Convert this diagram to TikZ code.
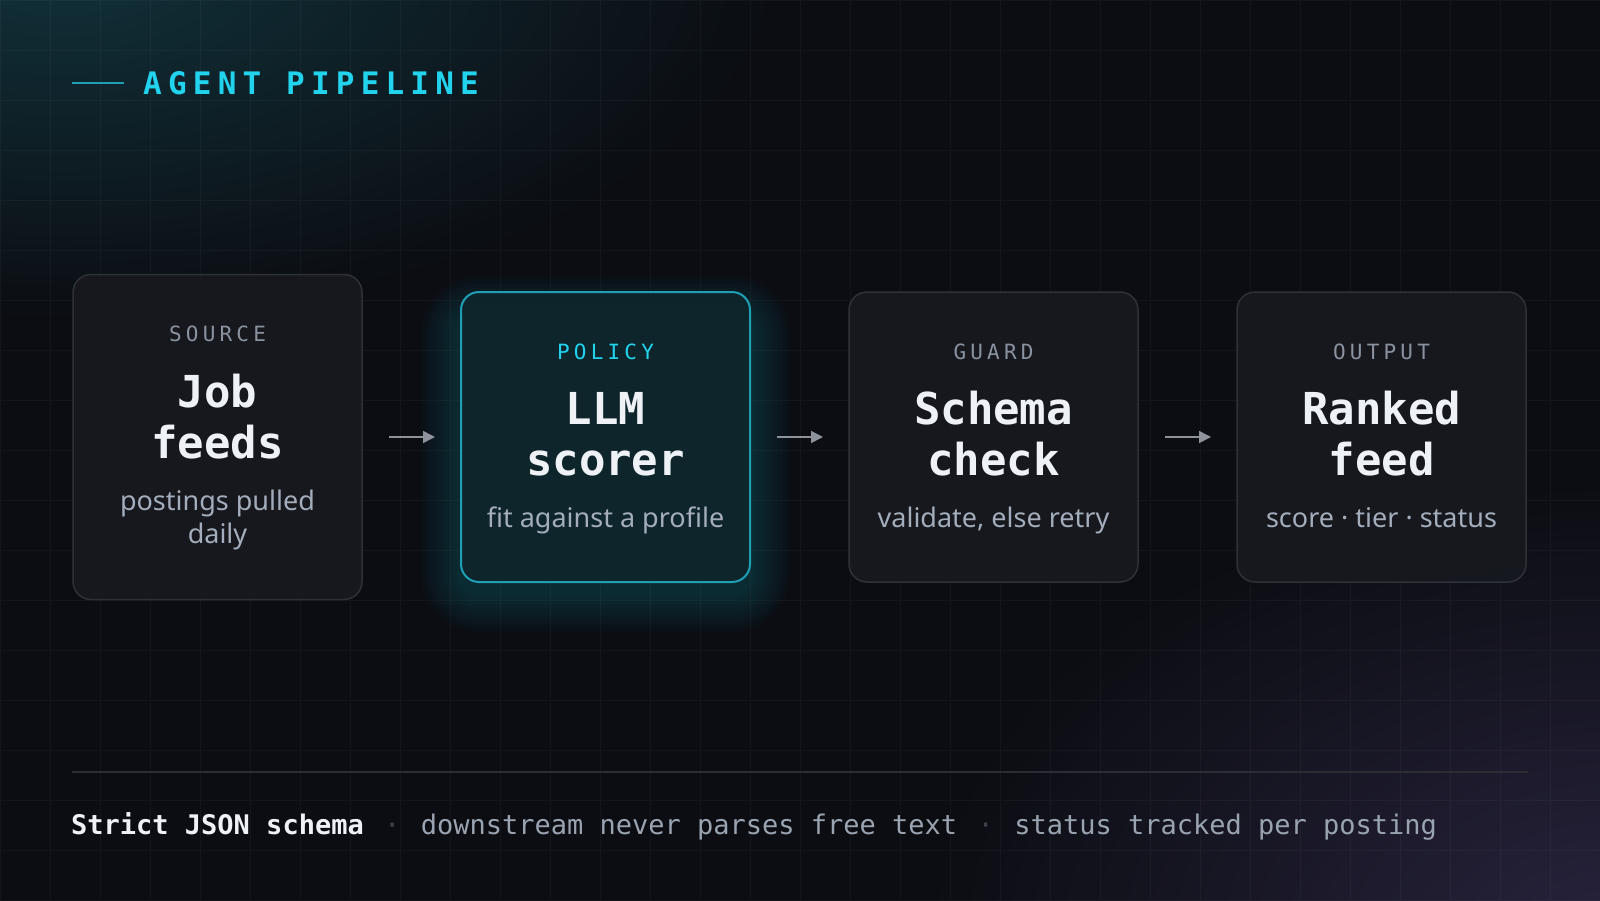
\documentclass[tikz,border=0pt]{standalone}
\usepackage{fontspec}
\usetikzlibrary{arrows.meta,calc,positioning,backgrounds}

\newfontfamily\codefont{DejaVu Sans Mono}
\newfontfamily\trackedfont[LetterSpace=20]{DejaVu Sans Mono}
\newfontfamily\bodyfont{Noto Sans}

\definecolor{bg}{HTML}{0B0D12}
\definecolor{cardfill}{HTML}{181A20}
\definecolor{cardline}{HTML}{2E3138}
\definecolor{cyanhi}{HTML}{22D3EE}
\definecolor{tealline}{HTML}{1F9FB4}
\definecolor{tealfill}{HTML}{0F252C}
\definecolor{tealglow}{HTML}{11313A}
\definecolor{haloteal}{HTML}{1596AD}
\definecolor{violetglow}{HTML}{28233D}
\definecolor{kickergray}{HTML}{8A92A0}
\definecolor{titlewhite}{HTML}{EEF1F6}
\definecolor{subgray}{HTML}{A4ADBB}
\definecolor{arrowgray}{HTML}{8E939B}
\definecolor{rulegray}{HTML}{2A2D33}
\definecolor{footgray}{HTML}{9AA3B0}
\definecolor{dotgray}{HTML}{3D424A}

\pgfdeclareradialshading{tealcorner}{\pgfpoint{0bp}{0bp}}{color(0bp)=(tealglow); color(10bp)=(tealglow!60!bg); color(25bp)=(bg); color(50bp)=(bg)}
\pgfdeclareradialshading{violetcorner}{\pgfpoint{0bp}{0bp}}{color(0bp)=(violetglow); color(10bp)=(violetglow!60!bg); color(25bp)=(bg); color(50bp)=(bg)}

\begin{document}
\begin{tikzpicture}[x=1pt,y=-1pt,>={Triangle[length=12pt,width=12pt]},
  card/.style={rectangle,rounded corners=18pt,draw=cardline,line width=1.5pt,fill=cardfill,fill opacity=0.85,
    minimum width=289pt,minimum height=290pt,inner sep=0pt,outer sep=0pt},
  policy card/.style={card,draw=tealline,line width=2pt,fill=tealfill,fill opacity=0.92},
  kicker/.style={anchor=base,inner sep=0pt,text=kickergray,font=\trackedfont\fontsize{21}{25}\selectfont},
  heading/.style={anchor=base,inner sep=0pt,align=center,text=titlewhite,font=\codefont\bfseries\fontsize{44}{51}\selectfont},
  blurb/.style={anchor=base,inner sep=0pt,align=center,text=subgray,font=\bodyfont\fontsize{27}{33}\selectfont},
  flow/.style={->,draw=arrowgray,line width=1.5pt,shorten <=27pt,shorten >=26pt},
  footer/.style={anchor=base west,inner sep=0pt,text=footgray,font=\codefont\fontsize{27}{32}\selectfont}]

\useasboundingbox (0,0) rectangle (1600,900);

% title
\node[anchor=base west,inner sep=0pt,text=cyanhi,font=\trackedfont\bfseries\fontsize{31}{36}\selectfont](pipetitle) at (143,94) {AGENT PIPELINE};
\draw[tealline,line width=2pt] ($(pipetitle.west)+(-71,0)$) -- ++(52,0);

% cards
\node[card,minimum height=325pt](src) at (217.5,437) {};
\node[policy card](llm) [right=99pt of src] {};
\node[card](guard) [right=99pt of llm] {};
\node[card](ranked) [right=99pt of guard] {};

% base of a two-line node is its last line
\node[kicker](srckick) at ($(src.center)+(0,-96)$) {SOURCE};
\node[heading](srchead) at ($(src.center)+(0,21)$) {Job\\feeds};
\node[blurb](srcblurb) at ($(src.center)+(0,106)$) {postings pulled\\daily};

\node[kicker,text=cyanhi](llmkick) at ($(llm.center)+(0,-78)$) {POLICY};
\node[heading](llmhead) at ($(llm.center)+(0,38)$) {LLM\\scorer};
\node[blurb](llmblurb) at ($(llm.center)+(0,90.5)$) {fit against a profile};

\node[kicker](guardkick) at ($(guard.center)+(0,-78)$) {GUARD};
\node[heading](guardhead) at ($(guard.center)+(0,38)$) {Schema\\check};
\node[blurb](guardblurb) at ($(guard.center)+(0,90.5)$) {validate, else retry};

\node[kicker](rankedkick) at ($(ranked.center)+(0,-78)$) {OUTPUT};
\node[heading](rankedhead) at ($(ranked.center)+(0,38)$) {Ranked\\feed};
\node[blurb](rankedblurb) at ($(ranked.center)+(0,90.5)$) {score · tier · status};

\path
(src) edge[flow] (llm)
(llm) edge[flow] (guard)
(guard) edge[flow] (ranked);

% footer
\draw[rulegray,line width=2pt] (72,771.5) -- (1528,771.5);
\node[footer,text=titlewhite,font=\codefont\bfseries\fontsize{27}{32}\selectfont](strict) at (71,834) {Strict JSON schema};
\node[footer,text=dotgray](dotA) [base right=20pt of strict] {·};
\node[footer](downstream) [base right=20pt of dotA] {downstream never parses free text};
\node[footer,text=dotgray](dotB) [base right=20pt of downstream] {·};
\node[footer](status) [base right=20pt of dotB] {status tracked per posting};

\begin{scope}[on background layer]
\clip (-5,-5) rectangle (1605,905);
\fill[bg] (-5,-5) rectangle (1605,905);
\shade[shading=tealcorner] (60,-40) ellipse [x radius=720,y radius=360];
\shade[shading=violetcorner] (1620,940) ellipse [x radius=700,y radius=460];
\draw[white,opacity=0.035,line width=1pt,step=50pt] (0,900) grid (1600,0);
\foreach \g in {4,8,...,40}
  \fill[haloteal,opacity=0.028,rounded corners=18pt+\g] ($(llm.south west)+(-\g,\g+10)$) rectangle ($(llm.north east)+(\g,-\g+24)$);
\end{scope}
\end{tikzpicture}
\end{document}
